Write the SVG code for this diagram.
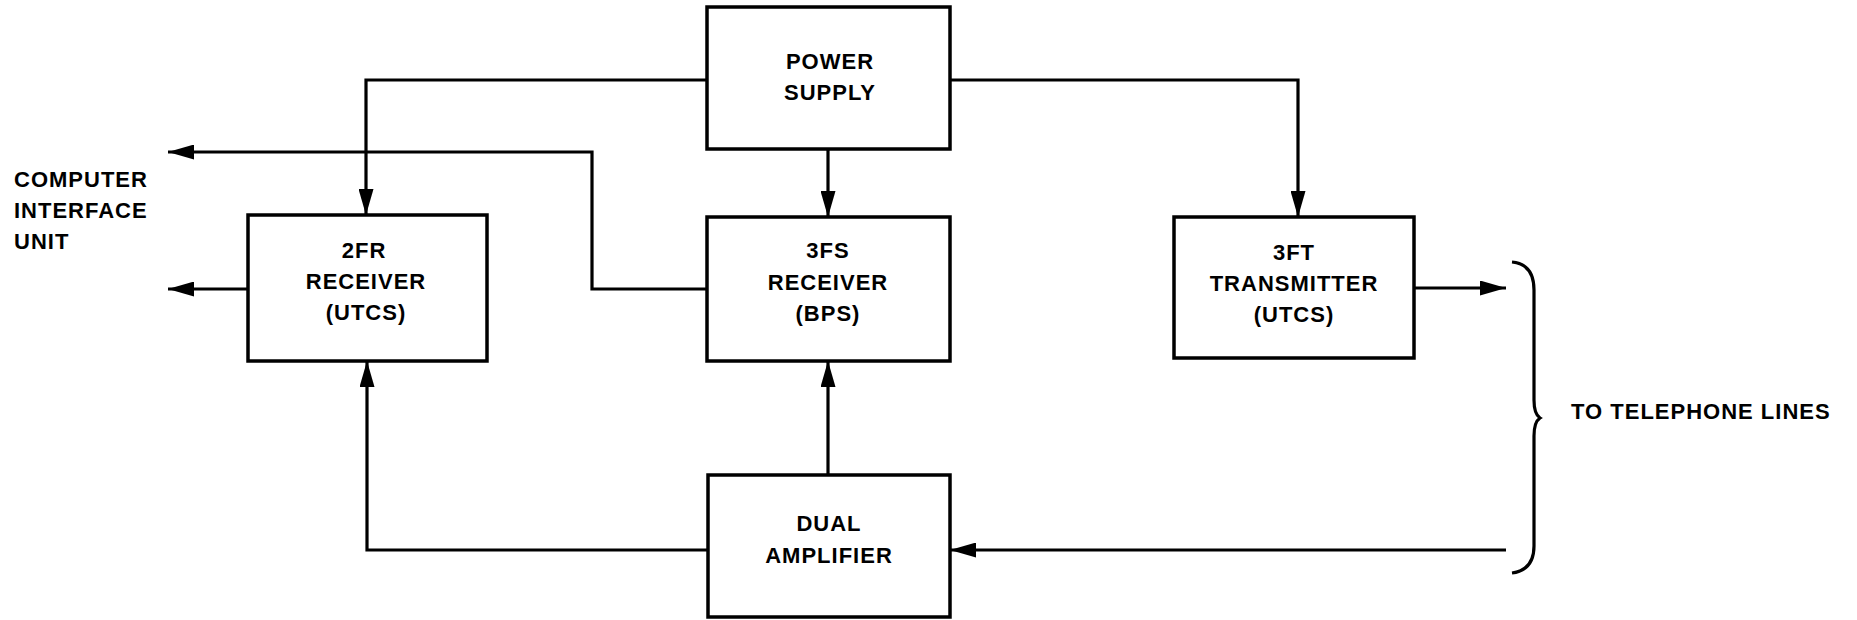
<svg xmlns="http://www.w3.org/2000/svg" width="1857" height="620" viewBox="0 0 1857 620">
<style>
.box{fill:#fff;stroke:#000;stroke-width:3.5}
.ln{fill:none;stroke:#000;stroke-width:3.2}
text{font-family:"Liberation Sans",Arial,sans-serif;font-weight:bold;font-size:22px;letter-spacing:1px;fill:#000}
.c{text-anchor:middle}
</style>
<defs>
<marker id="ah" viewBox="0 0 26 15" refX="26" refY="7.5" markerWidth="26" markerHeight="15" markerUnits="userSpaceOnUse" orient="auto">
<path d="M0,0 L26,7.5 L0,15 z" fill="#000"/>
</marker>
</defs>
<rect width="1857" height="620" fill="#fff"/>
<g id="connectors">
<path class="ln" d="M707,80 H366 V215" marker-end="url(#ah)"/>
<path class="ln" d="M950,80 H1298 V217" marker-end="url(#ah)"/>
<path class="ln" d="M828,149 V217" marker-end="url(#ah)"/>
<path class="ln" d="M707,289 H592 V152 H168" marker-end="url(#ah)"/>
<path class="ln" d="M248,289 H168" marker-end="url(#ah)"/>
<path class="ln" d="M708,550 H367 V361" marker-end="url(#ah)"/>
<path class="ln" d="M828,475 V361" marker-end="url(#ah)"/>
<path class="ln" d="M1414,288 H1506" marker-end="url(#ah)"/>
<path class="ln" d="M1506,550 H950" marker-end="url(#ah)"/>
</g>
<g id="power_supply">
<rect class="box" x="707" y="7" width="243" height="142"/>
<text class="c" x="830" y="69">POWER</text>
<text class="c" x="830" y="100">SUPPLY</text>
</g>
<g id="receiver_2fr">
<rect class="box" x="248" y="215" width="239" height="146"/>
<text class="c" x="364" y="258">2FR</text>
<text class="c" x="366" y="289">RECEIVER</text>
<text class="c" x="366" y="320">(UTCS)</text>
</g>
<g id="receiver_3fs">
<rect class="box" x="707" y="217" width="243" height="144"/>
<text class="c" x="828" y="258">3FS</text>
<text class="c" x="828" y="290">RECEIVER</text>
<text class="c" x="828" y="321">(BPS)</text>
</g>
<g id="transmitter_3ft">
<rect class="box" x="1174" y="217" width="240" height="141"/>
<text class="c" x="1294" y="260">3FT</text>
<text class="c" x="1294" y="291">TRANSMITTER</text>
<text class="c" x="1294" y="322">(UTCS)</text>
</g>
<g id="dual_amplifier">
<rect class="box" x="708" y="475" width="242" height="142"/>
<text class="c" x="829" y="531">DUAL</text>
<text class="c" x="829" y="563">AMPLIFIER</text>
</g>
<g id="computer_interface_unit">
<text x="14" y="187">COMPUTER</text>
<text x="14" y="218">INTERFACE</text>
<text x="14" y="249">UNIT</text>
</g>
<g id="telephone_lines">
<path class="ln" d="M1512,262 Q1534,264 1534,290 V400 Q1534,414 1540,418 Q1534,422 1534,436 V546 Q1534,570 1512,573"/>
<text x="1571" y="419">TO TELEPHONE LINES</text>
</g>
</svg>
